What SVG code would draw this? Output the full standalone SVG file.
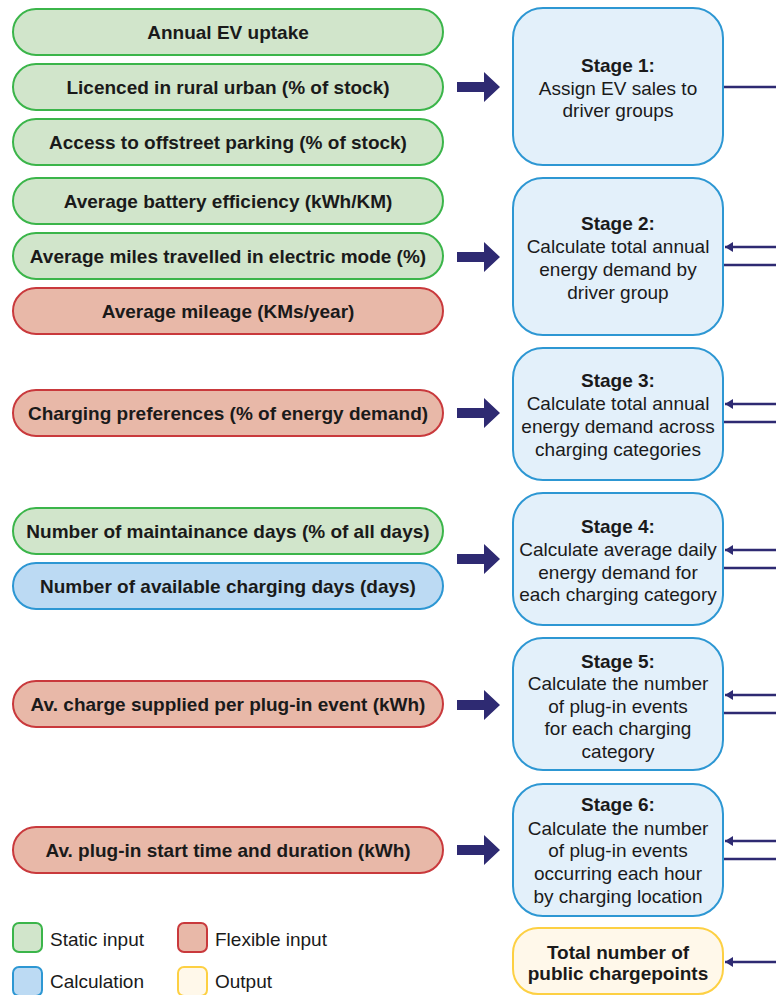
<svg xmlns="http://www.w3.org/2000/svg" xmlns:xlink="http://www.w3.org/1999/xlink" width="776" height="995" viewBox="0 0 776 995">
<style>
text{font-family:"Liberation Sans",Arial,Helvetica,sans-serif;font-size:19px;fill:#1a1a1a;}
.b{font-weight:bold;}
.c{text-anchor:middle;}
.static{fill:#d1e5cb;stroke:#3bb54a;stroke-width:2;}
.flex{fill:#e8b8a8;stroke:#c9393c;stroke-width:2;}
.calc{fill:#bcdaf3;stroke:#2d97d3;stroke-width:2;}
.stage{fill:#e3f0fa;stroke:#2d97d3;stroke-width:2;}
.out{fill:#fff8ea;stroke:#fdd043;stroke-width:2;}
.big{fill:#2e2a72;}
.ln{stroke:#2e2a72;stroke-width:2.6;fill:none;}
</style>
<defs>
<path id="bigArrow" d="M0,-5 H27 V-15 L43,0 L27,15 V5 H0 Z"/>
<marker id="ah" markerUnits="userSpaceOnUse" viewBox="0 0 8 10" refX="8" refY="5" markerWidth="8" markerHeight="10" orient="auto">
<path d="M0,0 L8,5 L0,10 Z" fill="#2e2a72"/>
</marker>
</defs>

<g id="in1"><rect class="static" x="13" y="9" width="430" height="46" rx="23"/><text class="b c" x="228" y="39">Annual EV uptake</text></g>
<g id="in2"><rect class="static" x="13" y="64" width="430" height="46" rx="23"/><text class="b c" x="228" y="94">Licenced in rural urban (% of stock)</text></g>
<g id="in3"><rect class="static" x="13" y="119" width="430" height="46" rx="23"/><text class="b c" x="228" y="149">Access to offstreet parking (% of stock)</text></g>
<g id="in4"><rect class="static" x="13" y="178" width="430" height="46" rx="23"/><text class="b c" x="228" y="208">Average battery efficiency (kWh/KM)</text></g>
<g id="in5"><rect class="static" x="13" y="233" width="430" height="46" rx="23"/><text class="b c" x="228" y="263">Average miles travelled in electric mode (%)</text></g>
<g id="in6"><rect class="flex" x="13" y="288" width="430" height="46" rx="23"/><text class="b c" x="228" y="318">Average mileage (KMs/year)</text></g>
<g id="in7"><rect class="flex" x="13" y="390" width="430" height="46" rx="23"/><text class="b c" x="228" y="420">Charging preferences (% of energy demand)</text></g>
<g id="in8"><rect class="static" x="13" y="508" width="430" height="46" rx="23"/><text class="b c" x="228" y="538">Number of maintainance days (% of all days)</text></g>
<g id="in9"><rect class="calc" x="13" y="563" width="430" height="46" rx="23"/><text class="b c" x="228" y="593">Number of available charging days (days)</text></g>
<g id="in10"><rect class="flex" x="13" y="681" width="430" height="46" rx="23"/><text class="b c" x="228" y="711">Av. charge supplied per plug-in event (kWh)</text></g>
<g id="in11"><rect class="flex" x="13" y="827" width="430" height="46" rx="23"/><text class="b c" x="228" y="857">Av. plug-in start time and duration (kWh)</text></g>

<g id="stage1"><rect class="stage" x="513" y="8" width="210" height="157" rx="30"/>
<text class="c" x="618"><tspan class="b" x="618" y="72">Stage 1:</tspan><tspan x="618" y="95">Assign EV sales to</tspan><tspan x="618" y="117">driver groups</tspan></text></g>
<g id="stage2"><rect class="stage" x="513" y="178" width="210" height="157" rx="30"/>
<text class="c" x="618"><tspan class="b" x="618" y="230">Stage 2:</tspan><tspan x="618" y="253">Calculate total annual</tspan><tspan x="618" y="276">energy demand by</tspan><tspan x="618" y="299">driver group</tspan></text></g>
<g id="stage3"><rect class="stage" x="513" y="348" width="210" height="132" rx="30"/>
<text class="c" x="618"><tspan class="b" x="618" y="387">Stage 3:</tspan><tspan x="618" y="410">Calculate total annual</tspan><tspan x="618" y="433">energy demand across</tspan><tspan x="618" y="456">charging categories</tspan></text></g>
<g id="stage4"><rect class="stage" x="513" y="493" width="210" height="132" rx="30"/>
<text class="c" x="618"><tspan class="b" x="618" y="533">Stage 4:</tspan><tspan x="618" y="556">Calculate average daily</tspan><tspan x="618" y="579">energy demand for</tspan><tspan x="618" y="601">each charging category</tspan></text></g>
<g id="stage5"><rect class="stage" x="513" y="638" width="210" height="132" rx="30"/>
<text class="c" x="618"><tspan class="b" x="618" y="668">Stage 5:</tspan><tspan x="618" y="690">Calculate the number</tspan><tspan x="618" y="713">of plug-in events</tspan><tspan x="618" y="735">for each charging</tspan><tspan x="618" y="758">category</tspan></text></g>
<g id="stage6"><rect class="stage" x="513" y="784" width="210" height="132" rx="30"/>
<text class="c" x="618"><tspan class="b" x="618" y="811">Stage 6:</tspan><tspan x="618" y="835">Calculate the number</tspan><tspan x="618" y="857">of plug-in events</tspan><tspan x="618" y="880">occurring each hour</tspan><tspan x="618" y="903">by charging location</tspan></text></g>
<g id="output"><rect class="out" x="513" y="928" width="210" height="66" rx="25"/>
<text class="b c" x="618"><tspan x="618" y="959">Total number of</tspan><tspan x="618" y="980">public chargepoints</tspan></text></g>

<g id="connectors">
<use href="#bigArrow" class="big" x="457" y="87"/>
<use href="#bigArrow" class="big" x="457" y="257"/>
<use href="#bigArrow" class="big" x="457" y="413"/>
<use href="#bigArrow" class="big" x="457" y="559"/>
<use href="#bigArrow" class="big" x="457" y="705"/>
<use href="#bigArrow" class="big" x="457" y="850"/>
<line class="ln" x1="724" y1="87" x2="780" y2="87"/>
<line class="ln" x1="780" y1="247" x2="725" y2="247" marker-end="url(#ah)"/>
<line class="ln" x1="724" y1="265" x2="780" y2="265"/>
<line class="ln" x1="780" y1="404" x2="725" y2="404" marker-end="url(#ah)"/>
<line class="ln" x1="724" y1="422" x2="780" y2="422"/>
<line class="ln" x1="780" y1="550" x2="725" y2="550" marker-end="url(#ah)"/>
<line class="ln" x1="724" y1="568" x2="780" y2="568"/>
<line class="ln" x1="780" y1="695" x2="725" y2="695" marker-end="url(#ah)"/>
<line class="ln" x1="724" y1="713" x2="780" y2="713"/>
<line class="ln" x1="780" y1="841" x2="725" y2="841" marker-end="url(#ah)"/>
<line class="ln" x1="724" y1="859" x2="780" y2="859"/>
<line class="ln" x1="780" y1="962" x2="725" y2="962" marker-end="url(#ah)"/>
</g>

<g id="legend">
<rect class="static" x="13" y="923" width="29" height="29" rx="6"/><text x="50" y="946">Static input</text>
<rect class="flex" x="178" y="923" width="29" height="29" rx="6"/><text x="215" y="946">Flexible input</text>
<rect class="calc" x="13" y="967" width="29" height="29" rx="6"/><text x="50" y="988">Calculation</text>
<rect class="out" x="178" y="967" width="29" height="29" rx="6"/><text x="215" y="988">Output</text>
</g>
</svg>
